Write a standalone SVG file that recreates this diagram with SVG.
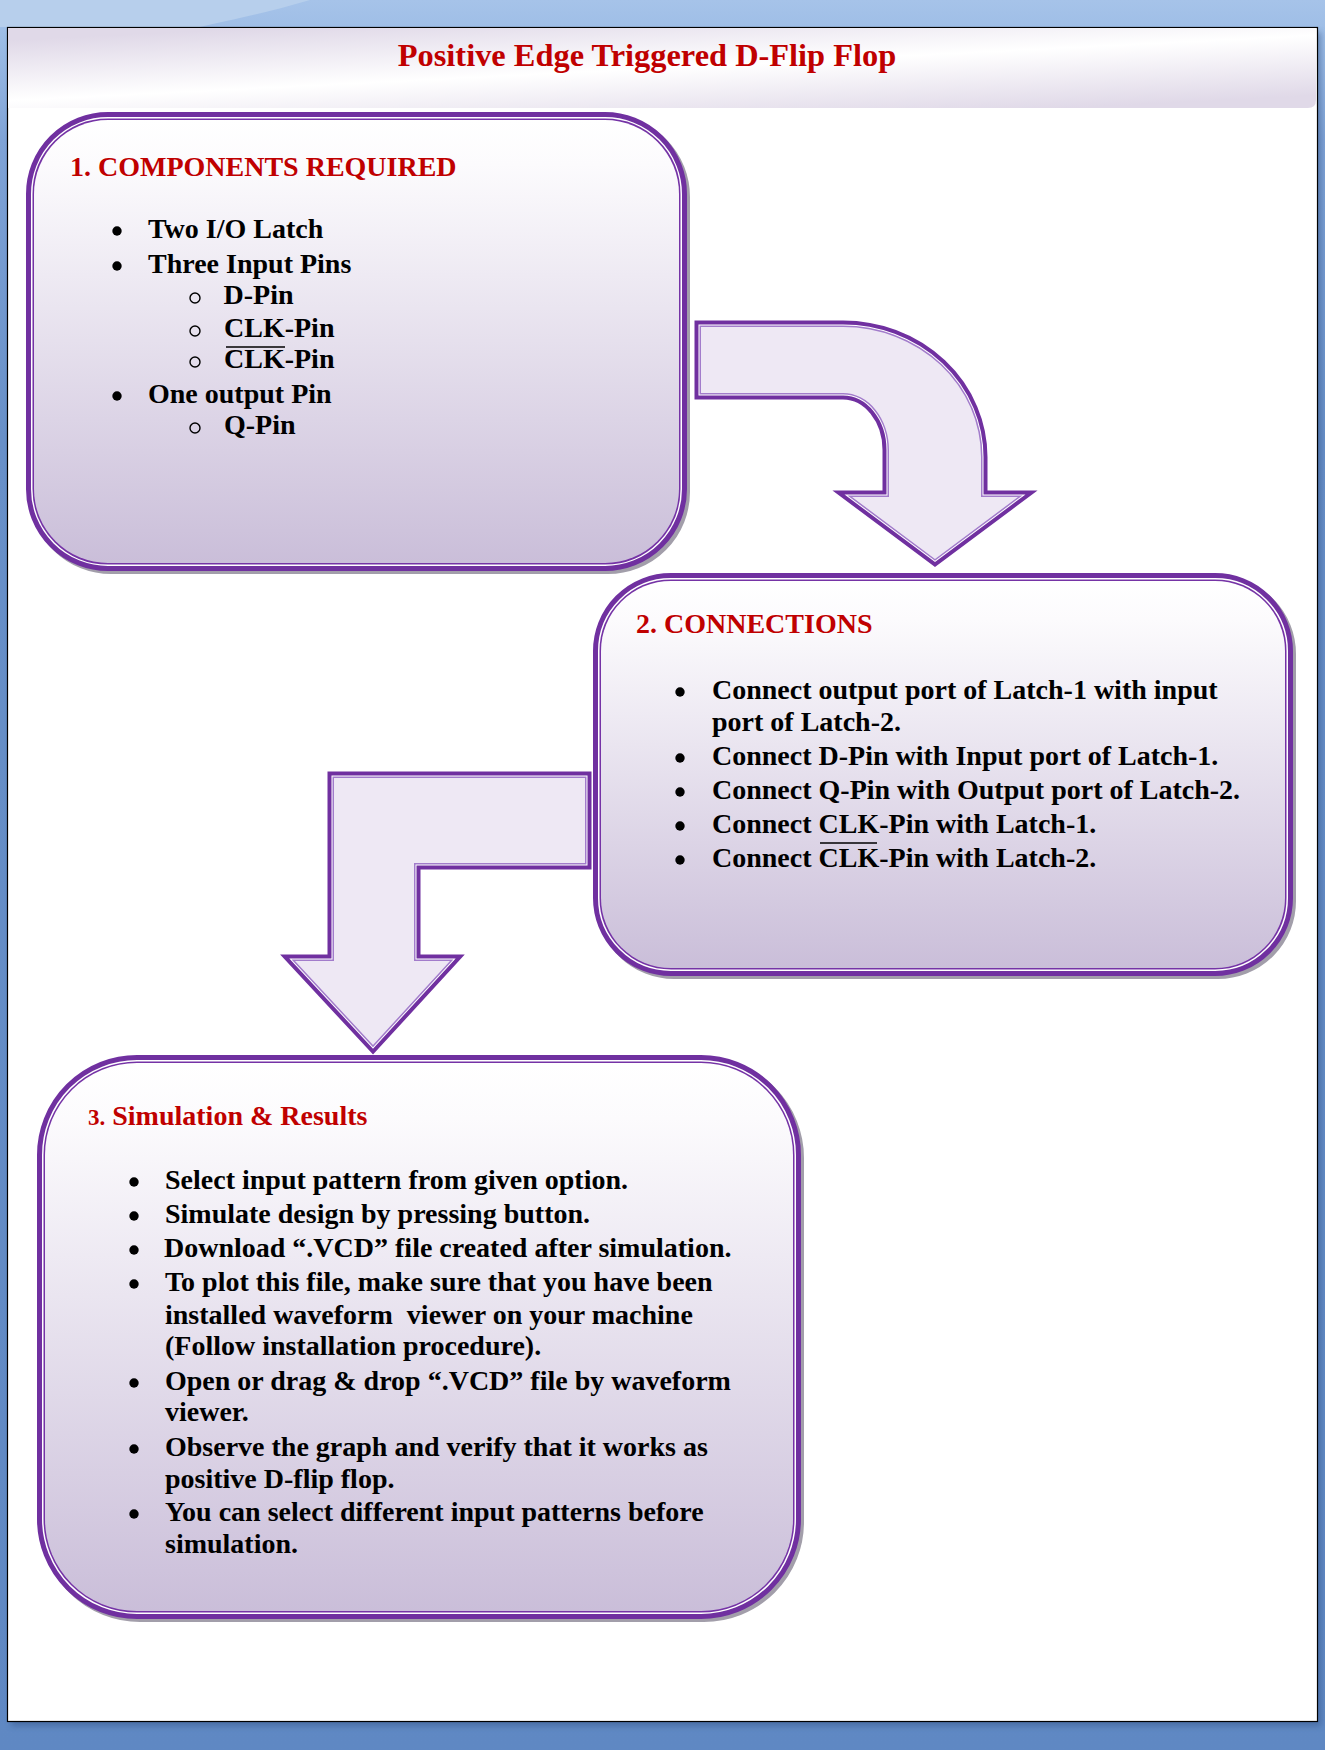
<svg xmlns="http://www.w3.org/2000/svg" xmlns:xlink="http://www.w3.org/1999/xlink" width="1325" height="1750" viewBox="0 0 1325 1750">
<style>
text{font-family:"Liberation Serif","Times New Roman",serif;font-weight:bold;fill:#000}
.title{font-size:32.4px;fill:#c00000}
.head{font-size:28px;fill:#c00000}
.item{font-size:28px}
.ovl{stroke:#000;stroke-width:1.5}
.sh{fill:#a29eaa;stroke:#a29eaa;stroke-width:16;stroke-linejoin:round}
.s1{fill:none;stroke:#7030a0;stroke-width:16}
.s2{fill:none;stroke:#ffffff;stroke-width:6}
.s3{fill:none;stroke:#7533a6;stroke-width:3}
.fb{fill:url(#boxg);stroke:none}
.a1{fill:none;stroke:#7030a0;stroke-width:13;stroke-linejoin:miter;stroke-miterlimit:10}
.a2{fill:none;stroke:#ffffff;stroke-width:5;stroke-linejoin:miter;stroke-miterlimit:10}
.a3{fill:none;stroke:#a27ccb;stroke-width:3;stroke-linejoin:miter;stroke-miterlimit:10}
.af{fill:#eee8f4;stroke:none}
.dot{fill:#000}
.ring{fill:none;stroke:#000;stroke-width:1.4}
</style>
<defs>
<linearGradient id="bg" x1="0" y1="0" x2="0" y2="1">
<stop offset="0" stop-color="#a6c3e9"/>
<stop offset="0.02" stop-color="#9dbde6"/>
<stop offset="0.08" stop-color="#7fa3d6"/>
<stop offset="0.25" stop-color="#6890c8"/>
<stop offset="1" stop-color="#5f88c3"/>
</linearGradient>
<linearGradient id="band" gradientUnits="userSpaceOnUse" x1="659" y1="8" x2="665" y2="128">
<stop offset="0" stop-color="#e0d9e8"/>
<stop offset="0.5" stop-color="#ffffff"/>
<stop offset="1" stop-color="#e0d9e8"/>
</linearGradient>
<linearGradient id="boxg" x1="0" y1="0" x2="0" y2="1">
<stop offset="0" stop-color="#ffffff"/>
<stop offset="0.1" stop-color="#fcfbfd"/>
<stop offset="1" stop-color="#cabed9"/>
</linearGradient>
<filter id="blur" x="-5%" y="-5%" width="110%" height="110%">
<feGaussianBlur stdDeviation="3"/>
</filter>
<rect id="g1" x="34" y="120" width="645" height="443" rx="74" ry="74"/>
<rect id="g2" x="601" y="581" width="684" height="387" rx="70" ry="70"/>
<rect id="g3" x="45" y="1063" width="748" height="548" rx="92" ry="92"/>
<path id="p1" d="M701,327 L843,327 A138,130 0 0 1 981,457 L981,497 L1018,497 L935,559 L852,497 L889,497 L889,450 A46,57 0 0 0 843,393 L701,393 Z"/>
<path id="p2" d="M334,778 L585,778 L585,863 L414,863 L414,961 L450,961 L373,1045 L295,961 L334,961 Z"/>
</defs>

<g id="background">
<rect x="0" y="0" width="1325" height="1750" fill="url(#bg)"/>
<path d="M0,0 L310,0 C270,12 230,20 200,27 L0,27 Z" fill="#b7cfec"/>
<rect x="11" y="32" width="1310" height="1694" fill="#2d4d80" opacity="0.45" filter="url(#blur)"/>
<rect x="7.5" y="27.5" width="1310" height="1694" fill="#ffffff" stroke="#000" stroke-width="1.2"/>
<path d="M8,28 L1316,28 L1316,100 Q1316,108 1308,108 L8,108 Z" fill="url(#band)"/>
</g>

<g id="title">
<text class="title" x="647" y="66" text-anchor="middle">Positive Edge Triggered D-Flip Flop</text>
</g>

<g id="connectors">
<g id="arrow-1-2">
<use xlink:href="#p1" class="a1"/>
<use xlink:href="#p1" class="a2"/>
<use xlink:href="#p1" class="a3"/>
<use xlink:href="#p1" class="af"/>
</g>
<g id="arrow-2-3">
<use xlink:href="#p2" class="a1"/>
<use xlink:href="#p2" class="a2"/>
<use xlink:href="#p2" class="a3"/>
<use xlink:href="#p2" class="af"/>
</g>
</g>

<g id="node-components">
<use xlink:href="#g1" class="sh" transform="translate(3,3)"/>
<use xlink:href="#g1" class="s1"/>
<use xlink:href="#g1" class="s2"/>
<use xlink:href="#g1" class="s3"/>
<use xlink:href="#g1" class="fb"/>
<text class="head" x="70" y="176">1. COMPONENTS REQUIRED</text>
<circle class="dot" cx="117" cy="231" r="4.7"/>
<text class="item" x="148" y="238">Two I/O Latch</text>
<circle class="dot" cx="117" cy="266" r="4.7"/>
<text class="item" x="148" y="273">Three Input Pins</text>
<circle class="ring" cx="195" cy="298" r="5"/>
<text class="item" x="223.5" y="304">D-Pin</text>
<circle class="ring" cx="195" cy="331" r="5"/>
<text class="item" x="224" y="337">CLK-Pin</text>
<circle class="ring" cx="195" cy="362" r="5"/>
<text class="item" x="224" y="368">CLK-Pin</text>
<line class="ovl" x1="226" y1="347" x2="285" y2="347"/>
<circle class="dot" cx="117" cy="396" r="4.7"/>
<text class="item" x="148" y="403">One output Pin</text>
<circle class="ring" cx="195" cy="428" r="5"/>
<text class="item" x="224" y="434">Q-Pin</text>
</g>

<g id="node-connections">
<use xlink:href="#g2" class="sh" transform="translate(3,3)"/>
<use xlink:href="#g2" class="s1"/>
<use xlink:href="#g2" class="s2"/>
<use xlink:href="#g2" class="s3"/>
<use xlink:href="#g2" class="fb"/>
<text class="head" x="636" y="633">2. CONNECTIONS</text>
<circle class="dot" cx="680" cy="692" r="4.7"/>
<text class="item" x="712" y="699">Connect output port of Latch-1 with input</text>
<text class="item" x="712" y="731">port of Latch-2.</text>
<circle class="dot" cx="680" cy="758" r="4.7"/>
<text class="item" x="712" y="765">Connect D-Pin with Input port of Latch-1.</text>
<circle class="dot" cx="680" cy="792" r="4.7"/>
<text class="item" x="712" y="799">Connect Q-Pin with Output port of Latch-2.</text>
<circle class="dot" cx="680" cy="826" r="4.7"/>
<text class="item" x="712" y="833">Connect CLK-Pin with Latch-1.</text>
<circle class="dot" cx="680" cy="860" r="4.7"/>
<text class="item" x="712" y="867">Connect CLK-Pin with Latch-2.</text>
<line class="ovl" x1="820" y1="843" x2="877" y2="843"/>
</g>

<g id="node-simulation">
<use xlink:href="#g3" class="sh" transform="translate(3,3)"/>
<use xlink:href="#g3" class="s1"/>
<use xlink:href="#g3" class="s2"/>
<use xlink:href="#g3" class="s3"/>
<use xlink:href="#g3" class="fb"/>
<text class="head" x="88" y="1125"><tspan font-size="23">3.</tspan> Simulation &amp; Results</text>
<circle class="dot" cx="134" cy="1182" r="4.7"/>
<text class="item" x="165" y="1189">Select input pattern from given option.</text>
<circle class="dot" cx="134" cy="1216" r="4.7"/>
<text class="item" x="165" y="1223">Simulate design by pressing button.</text>
<circle class="dot" cx="134" cy="1250" r="4.7"/>
<text class="item" x="164" y="1257">Download “.VCD” file created after simulation.</text>
<circle class="dot" cx="134" cy="1284" r="4.7"/>
<text class="item" x="165" y="1291">To plot this file, make sure that you have been</text>
<text class="item" x="165" y="1324" style="white-space:pre">installed waveform  viewer on your machine</text>
<text class="item" x="165" y="1355">(Follow installation procedure).</text>
<circle class="dot" cx="134" cy="1383" r="4.7"/>
<text class="item" x="165" y="1390">Open or drag &amp; drop “.VCD” file by waveform</text>
<text class="item" x="165" y="1421">viewer.</text>
<circle class="dot" cx="134" cy="1449" r="4.7"/>
<text class="item" x="165" y="1456">Observe the graph and verify that it works as</text>
<text class="item" x="165" y="1488">positive D-flip flop.</text>
<circle class="dot" cx="134" cy="1514" r="4.7"/>
<text class="item" x="165" y="1521">You can select different input patterns before</text>
<text class="item" x="165" y="1553">simulation.</text>
</g>
</svg>
